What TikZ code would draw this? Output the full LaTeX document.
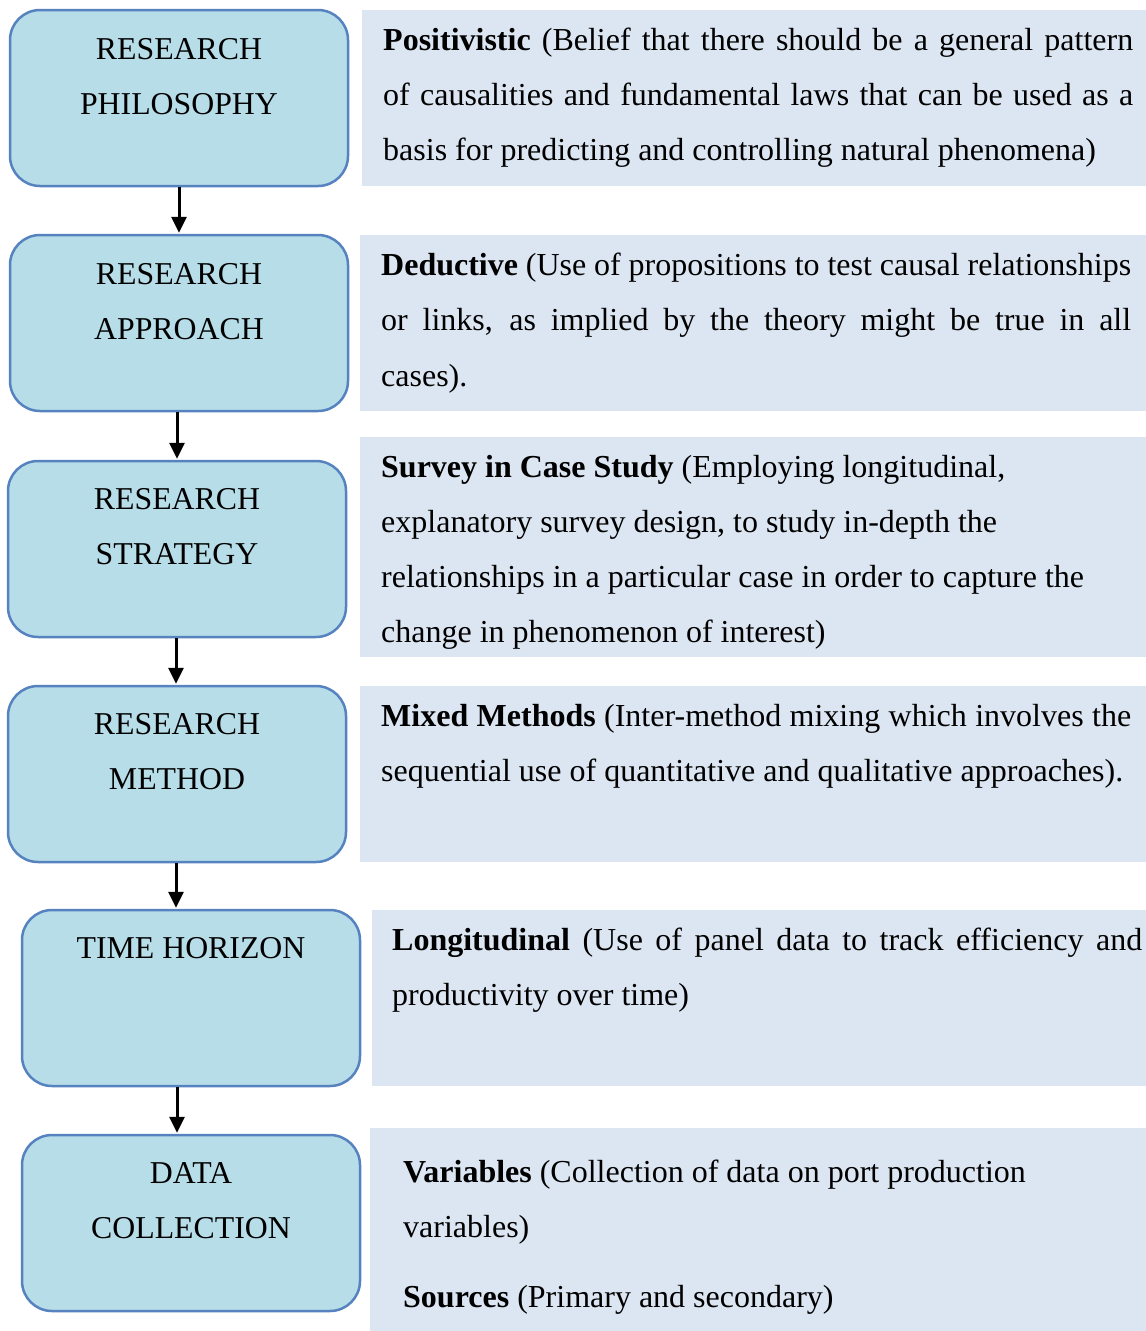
\documentclass[tikz,border=0pt]{standalone}
\usepackage{fontspec}
\setmainfont{Liberation Serif}
\usetikzlibrary{arrows.meta}
\definecolor{lfill}{HTML}{B7DDE8}
\definecolor{ldraw}{HTML}{5683C0}
\definecolor{rfill}{HTML}{DCE6F2}
\begin{document}
\begin{tikzpicture}[x=1pt,y=-1pt,
  lbox/.style={draw=ldraw,fill=lfill,line width=2.5pt,rounded corners=30pt,minimum width=338pt,minimum height=176pt,inner sep=0pt},
  rbox/.style={fill=rfill,inner sep=0pt},
  lab/.style={anchor=base,inner sep=0pt,font=\fontsize{31.8}{38}\selectfont},
  txt/.style={anchor=base west,inner sep=0pt,font=\fontsize{32}{38}\selectfont},
  arr/.style={line width=3pt,-{Triangle[length=16pt,width=15pt]}}]
\useasboundingbox (0,0) rectangle (1146,1331);
% left boxes
\node[lbox] (b1) at (179,98) {};
\node[lbox] (b2) at (179,323) {};
\node[lbox] (b3) at (177,549) {};
\node[lbox] (b4) at (177,774) {};
\node[lbox] (b5) at (191,998) {};
\node[lbox] (b6) at (191,1223) {};
% right boxes
\node[rbox,minimum width=784pt,minimum height=176pt] (r1) at (754,98) {};
\node[rbox,minimum width=786pt,minimum height=176pt] (r2) at (753,323) {};
\node[rbox,minimum width=786pt,minimum height=220pt] (r3) at (753,547) {};
\node[rbox,minimum width=786pt,minimum height=176pt] (r4) at (753,774) {};
\node[rbox,minimum width=774pt,minimum height=176pt] (r5) at (759,998) {};
\node[rbox,minimum width=776pt,minimum height=203pt] (r6) at (758,1229.5) {};
% left labels
\node[lab] (l1a) at (179,59) {RESEARCH};
\node[lab] (l1b) at (179,114) {PHILOSOPHY};
\node[lab] (l2a) at (179,284) {RESEARCH};
\node[lab] (l2b) at (179,339) {APPROACH};
\node[lab] (l3a) at (177,509) {RESEARCH};
\node[lab] (l3b) at (177,564) {STRATEGY};
\node[lab] (l4a) at (177,734) {RESEARCH};
\node[lab] (l4b) at (177,789) {METHOD};
\node[lab] (l5a) at (191,958) {TIME HORIZON};
\node[lab] (l6a) at (191,1183) {DATA};
\node[lab] (l6b) at (191,1238) {COLLECTION};
% arrows
\draw[arr] (b1.south) -- ([yshift=1pt]b1.south |- b2.north);
\draw[arr] ([xshift=-2pt]b2.south) -- ([xshift=-2pt,yshift=1pt]b2.south |- b3.north);
\draw[arr] ([xshift=-1pt]b3.south) -- ([xshift=-1pt,yshift=1pt]b3.south |- b4.north);
\draw[arr] ([xshift=-1pt]b4.south) -- ([xshift=-1pt,yshift=1pt]b4.south |- b5.north);
\draw[arr] ([xshift=-14pt]b5.south) -- ([xshift=-14pt,yshift=1pt]b5.south |- b6.north);
% right texts
\node[txt] (t1a) at (383,50) {\makebox[750pt][s]{\textbf{Positivistic} (Belief that there should be a general pattern}};
\node[txt] (t1b) at (383,105) {\makebox[750pt][s]{of causalities and fundamental laws that can be used as a}};
\node[txt] (t1c) at (383,160) {basis for predicting and controlling natural phenomena)};
\node[txt] (t2a) at (381,275) {\makebox[750pt][s]{\textbf{Deductive} (Use of propositions to test causal relationships}};
\node[txt] (t2b) at (381,330) {\makebox[750pt][s]{or links, as implied by the theory might be true in all}};
\node[txt] (t2c) at (381,386) {cases).};
\node[txt] (t3a) at (381,477) {\textbf{Survey in Case Study} (Employing longitudinal,};
\node[txt] (t3b) at (381,532) {explanatory survey design, to study in-depth the};
\node[txt] (t3c) at (381,587) {relationships in a particular case in order to capture the};
\node[txt] (t3d) at (381,642) {change in phenomenon of interest)};
\node[txt] (t4a) at (381,726) {\makebox[750pt][s]{\textbf{Mixed Methods} (Inter-method mixing which involves the}};
\node[txt] (t4b) at (381,781) {sequential use of quantitative and qualitative approaches).};
\node[txt] (t5a) at (392,950) {\makebox[750pt][s]{\textbf{Longitudinal} (Use of panel data to track efficiency and}};
\node[txt] (t5b) at (392,1005) {productivity over time)};
\node[txt] (t6a) at (403,1182) {\textbf{Variables} (Collection of data on port production};
\node[txt] (t6b) at (403,1237) {variables)};
\node[txt] (t6c) at (403,1307) {\textbf{Sources} (Primary and secondary)};
\end{tikzpicture}
\end{document}
